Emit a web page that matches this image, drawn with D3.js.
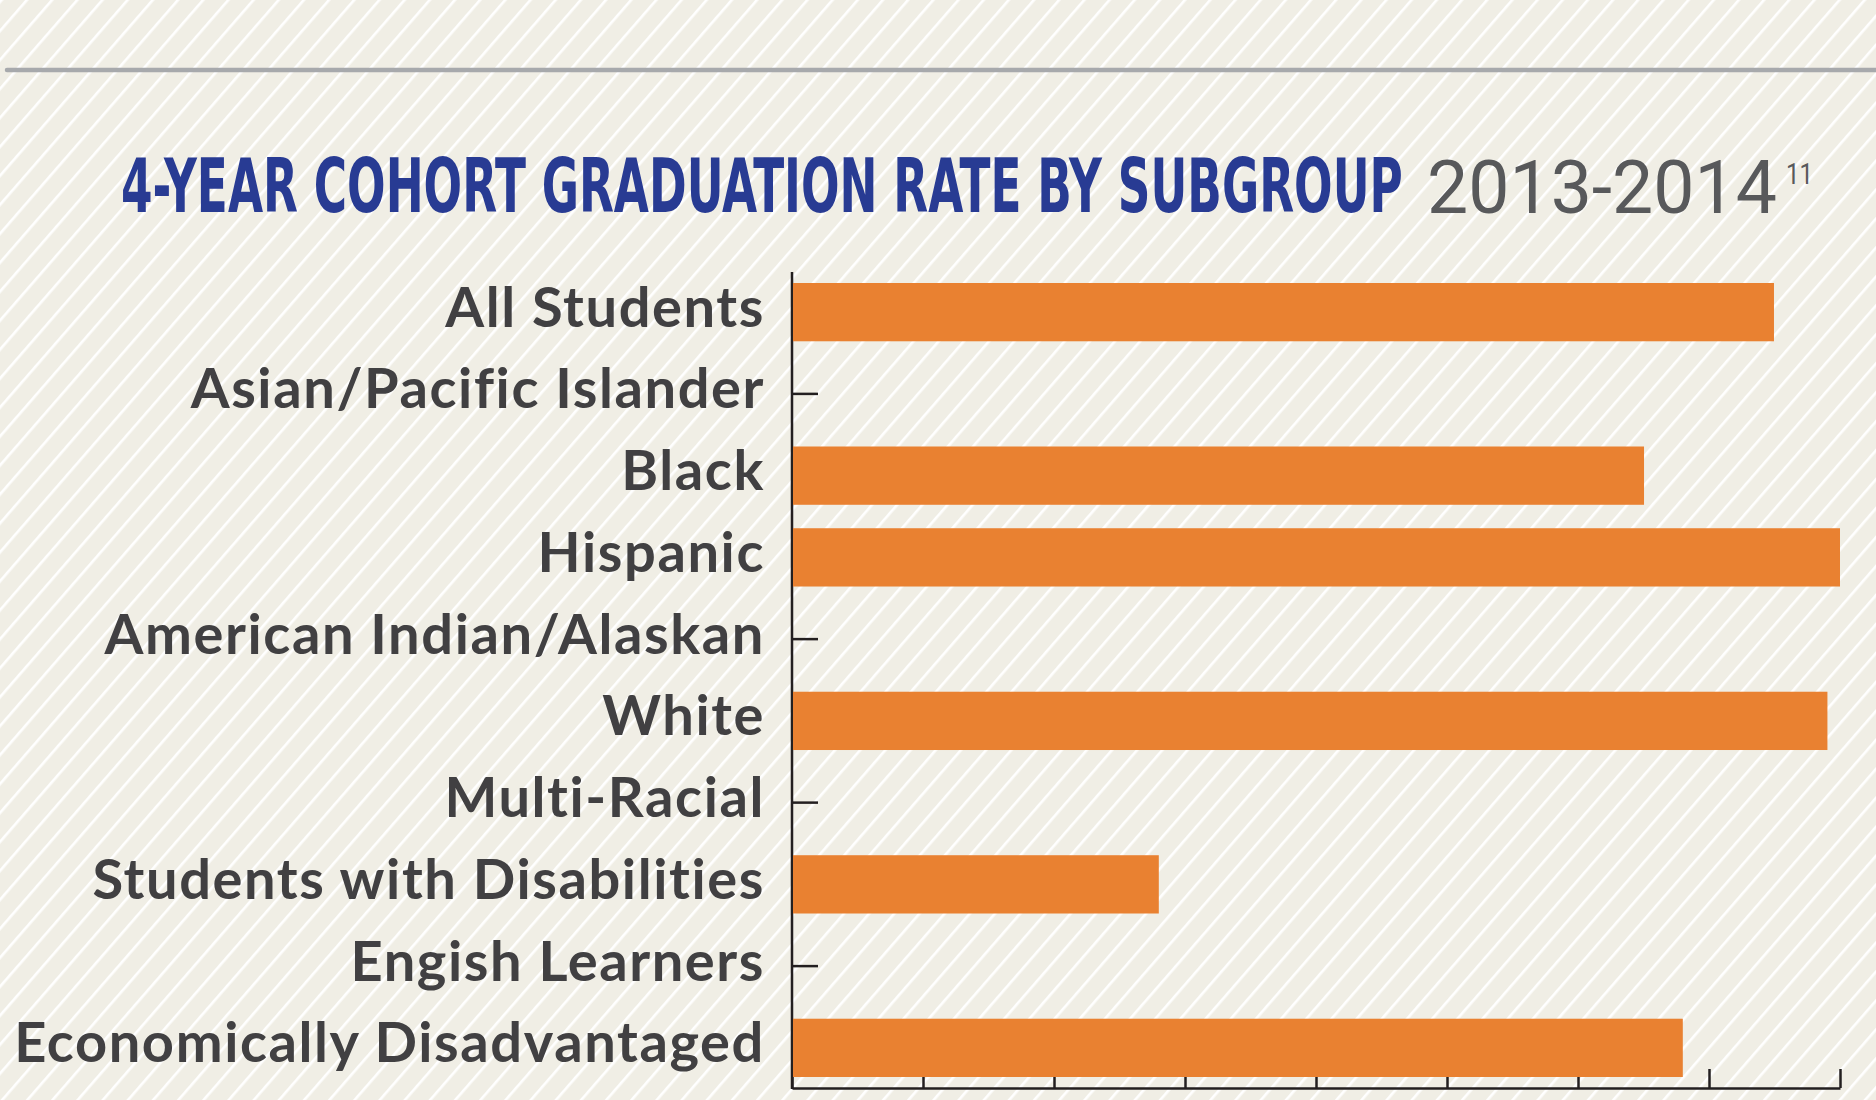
<!DOCTYPE html>
<html>
<head>
<meta charset="utf-8">
<script src="https://cdn.jsdelivr.net/npm/d3@7"></script>
<style>
  body { margin: 0; background: #f1efe7; }
  svg { display: block; }
</style>
</head>
<body>
<div id="chart"></div>
<script>
// Graduation rate data (percent; null = no bar)
let categories = ["All Students", "Asian/Pacific Islander", "Black", "Hispanic",
  "American Indian/Alaskan", "White", "Multi-Racial", "Students with Disabilities",
  "Engish Learners", "Economically Disadvantaged"];
let rates = [93.7, null, 81.3, 100, null, 98.8, null, 35.0, null, 85.0];
let xTicks = [0, 12.5, 25, 37.5, 50, 62.5, 75, 87.5, 100];

let titleMain = "4-YEAR COHORT GRADUATION RATE BY SUBGROUP";
let titleYears = "2013-2014";
let titleNote = "11";

let data = categories.map((c, i) => ({ name: c, value: rates[i] }));

let width = 1876;
let height = 1100;

let svg = d3.select("#chart").append("svg")
  .attr("width", width).attr("height", height);

// striped background
let defs = svg.append("defs");
let pat = defs.append("pattern")
  .attr("id", "stripes")
  .attr("patternUnits", "userSpaceOnUse")
  .attr("width", 19).attr("height", 19)
  .attr("patternTransform", "rotate(41)");
pat.append("rect").attr("width", 19).attr("height", 19).attr("fill", "#f0eee5");
pat.append("rect").attr("x", 0).attr("width", 2.6).attr("height", 19).attr("fill", "#ffffff");

svg.append("rect").attr("width", width).attr("height", height).attr("fill", "url(#stripes)");

// top rule
svg.append("line")
  .attr("x1", 7).attr("x2", width + 10)
  .attr("y1", 70).attr("y2", 70)
  .attr("stroke", "#a7a9ac").attr("stroke-width", 4.5)
  .attr("stroke-linecap", "round");

// title: squeeze horizontally to the width seen in the picture
function squeezeText(x, y, w, txt, font, weight, size, color) {
  let g = svg.append("g");
  let t = g.append("text")
    .attr("font-family", font)
    .attr("font-weight", weight)
    .attr("font-size", size)
    .attr("fill", color)
    .text(txt);
  let natural = t.node().getComputedTextLength();
  g.attr("transform", `translate(${x},${y}) scale(${w / natural},1)`);
  return g;
}

squeezeText(121, 212, 1282, titleMain,
  "'DejaVu Sans Condensed', 'DejaVu Sans', sans-serif", "bold", 75, "#283b93");
squeezeText(1427, 213, 350, titleYears, "Roboto, sans-serif", 400, 74, "#58595b");
squeezeText(1786, 184, 27, titleNote, "Roboto, sans-serif", 400, 30, "#58595b");

// scales
let xScale = d3.scaleLinear()
  .domain([0, 100])
  .range([792, 1840]);

let yScale = d3.scaleBand()
  .domain(categories)
  .range([283, 1077])
  .paddingInner(0.287)
  .paddingOuter(0);

// bottom axis with upward ticks
let xAxis = d3.axisBottom(xScale)
  .tickValues(xTicks)
  .tickSize(-19)
  .tickSizeOuter(0)
  .tickFormat("");

let gx = svg.append("g")
  .attr("transform", "translate(0,1088)")
  .call(xAxis);
gx.select(".domain").attr("stroke", "#231f20").attr("stroke-width", 2.5);
gx.selectAll(".tick line").attr("stroke", "#231f20").attr("stroke-width", 2.5);

// left axis, ticks pointing into the plot (covered by bars where data exists)
let yAxis = d3.axisLeft(yScale)
  .tickSize(-26)
  .tickSizeOuter(0)
  .tickFormat("");

let gy = svg.append("g")
  .attr("transform", "translate(792,0)")
  .call(yAxis);
gy.select(".domain").remove();
gy.selectAll(".tick line").attr("stroke", "#231f20").attr("stroke-width", 2.5);

svg.append("line")
  .attr("x1", 792).attr("x2", 792)
  .attr("y1", 272).attr("y2", 1089)
  .attr("stroke", "#231f20").attr("stroke-width", 2.5);

// bars
svg.append("g")
  .selectAll("rect")
  .data(data.filter(d => d.value !== null))
  .enter()
  .append("rect")
  .attr("x", xScale(0) + 1)
  .attr("y", d => yScale(d.name))
  .attr("width", d => xScale(d.value) - xScale(0) - 1)
  .attr("height", yScale.bandwidth())
  .attr("fill", "#e98131");

// category labels
svg.append("g")
  .selectAll("text")
  .data(data)
  .enter()
  .append("text")
  .attr("x", 765)
  .attr("y", d => yScale(d.name) + yScale.bandwidth() / 2 + 14.5)
  .attr("text-anchor", "end")
  .attr("font-family", "Lato, sans-serif")
  .attr("font-weight", "bold")
  .attr("font-size", 56)
  .attr("letter-spacing", 1.6)
  .attr("fill", "#414042")
  .text(d => d.name);
</script>
</body>
</html>
